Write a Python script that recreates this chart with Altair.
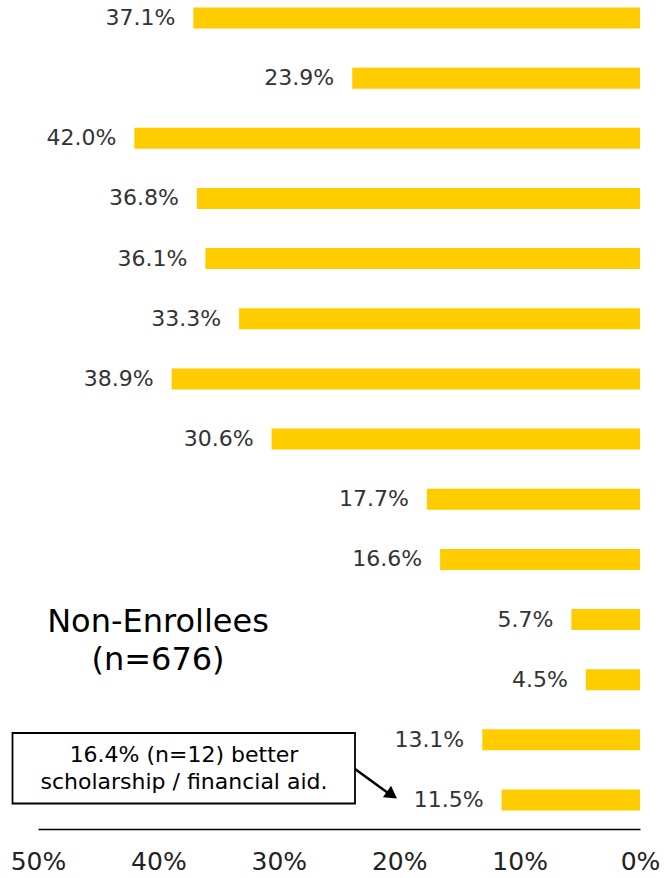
import altair as alt
import pandas as pd

categories = [f"Reason {i}" for i in range(1, 15)]
values = [37.1, 23.9, 42.0, 36.8, 36.1, 33.3, 38.9, 30.6, 17.7, 16.6, 5.7, 4.5, 13.1, 11.5]
x_ticks = [0, 10, 20, 30, 40, 50]

df = pd.DataFrame({"category": categories, "value": values})
df["label"] = [f"{v:.1f}%" for v in values]

FONT = "DejaVu Sans"

x_scale = alt.Scale(domain=[0, 50], reverse=True, nice=False, zero=True)
y_scale = alt.Scale(domain=categories, range=[7.5, 810.5], paddingInner=0.651, paddingOuter=0)

x_enc = alt.X(
    "value:Q",
    scale=x_scale,
    axis=alt.Axis(
        values=x_ticks,
        labelExpr="datum.value + '%'",
        grid=False,
        ticks=False,
        tickSize=0,
        domain=True,
        domainColor="#000000",
        domainWidth=1.5,
        labelFont=FONT,
        labelFontSize=25,
        labelColor="#222222",
        labelPadding=20,
        labelFlush=False,
        labelOverlap=False,
        title=None,
    ),
)
y_enc = alt.Y("category:N", scale=y_scale, sort=None, axis=None)

base = alt.Chart(df)

bars = base.mark_bar(color="#FFCC00").encode(x=x_enc, y=y_enc)

labels = base.mark_text(
    align="right", baseline="middle", dx=-18, font=FONT, fontSize=22, color="#333333"
).encode(x=x_enc, y=y_enc, text="label:N")

group_text = alt.Chart(pd.DataFrame({"t": ["Non-Enrollees\n(n=676)"]})).mark_text(
    align="center", baseline="middle", font=FONT, fontSize=32, color="#000000",
    lineBreak="\n", lineHeight=38,
).encode(x=alt.value(158 - 38), y=alt.value(622), text="t:N")

box = alt.Chart(pd.DataFrame({"a": [0]})).mark_rect(
    fill="#ffffff", stroke="#000000", strokeWidth=1.8
).encode(
    x=alt.value(12.5 - 38), x2=alt.value(355 - 38),
    y=alt.value(733), y2=alt.value(803.5),
)

box_text = alt.Chart(pd.DataFrame({"t": ["16.4% (n=12) better\nscholarship / financial aid."]})).mark_text(
    align="center", baseline="middle", font=FONT, fontSize=22, color="#000000",
    lineBreak="\n", lineHeight=27,
).encode(x=alt.value(184 - 38), y=alt.value(755), text="t:N")

arrow_line = alt.Chart(pd.DataFrame({"a": [0]})).mark_rule(
    color="#000000", strokeWidth=2.5
).encode(
    x=alt.value(355 - 38), x2=alt.value(388 - 38),
    y=alt.value(769), y2=alt.value(793),
)

arrow_head = alt.Chart(pd.DataFrame({"a": [0]})).mark_point(
    shape="triangle-up", filled=True, color="#000000", size=200, angle=125, opacity=1
).encode(x=alt.value(392 - 38), y=alt.value(795))

chart = alt.layer(
    bars, labels, group_text, arrow_line, arrow_head, box, box_text
).properties(
    width=602,
    height=829,
    background="#ffffff",
    autosize=alt.AutoSizeParams(type="none"),
    padding={"left": 38, "top": 0, "right": 24, "bottom": 49},
).configure_view(
    strokeWidth=0, stroke="transparent"
)

chart.save("out.html", embed_options={"renderer": "svg", "actions": False})
